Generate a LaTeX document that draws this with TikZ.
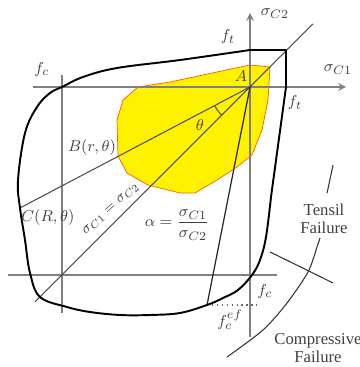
\documentclass[tikz,border=0pt]{standalone}
\usepackage{fontspec}
\setmainfont{Liberation Serif}
\tikzset{
  axisline/.style={gray, line width=1pt},
  rayline/.style={black!70, line width=0.6pt},
  lbl/.style={text=black!75, inner sep=1pt, font={\fontsize{9.5}{10.5}\selectfont}},
}
\begin{document}
\begin{tikzpicture}[xscale=0.02, yscale=0.02, line width=0.5pt]
  \useasboundingbox (0,0) rectangle (360,367);
  \coordinate (A) at (250,280);
  \coordinate (B) at (118,211);
  \coordinate (C) at (20,159);
  \coordinate (D) at (207,62);
  \coordinate (Dend) at (257,62);
  \coordinate (diagLo) at (35,65);
  \coordinate (diagHi) at (313,343);
  \coordinate (s1L) at (33,280);
  \coordinate (s1R) at (346,280);
  \coordinate (s2B) at (250,30);
  \coordinate (s2T) at (250,354);
  \coordinate (fcL) at (8,92);
  \coordinate (fcR) at (277,92);
  \coordinate (fcT) at (62,292);
  \coordinate (fcB) at (62,54);
  \coordinate (tensLo) at (327,174);
  \coordinate (tensHi) at (333,202);
  \coordinate (crossL) at (270,115);
  \coordinate (crossR) at (333,84);
  % elastic region
  \filldraw[fill=yellow, draw=orange!70!red, line width=0.4pt] (270,300) -- (250,302) -- (170,285) -- (138,280) -- (123,267) -- (117,247) -- (118,211) -- (127,194) -- (148,182) -- (180,174) -- (195,174) -- (217,187) -- (237,200) -- (252,212) -- (262,237) -- (268,267) -- cycle;
  % axes and strength lines
  \draw[axisline] (fcL) -- (fcR);
  \draw[axisline] (fcT) -- (fcB);
  \draw[axisline, ->, >=stealth] (s1L) -- (s1R);
  \draw[axisline, ->, >=stealth] (s2B) -- (s2T);
  % rays from A
  \draw[rayline] (diagLo) -- (diagHi);
  \draw[rayline] (A) -- (C);
  \draw[black!85, line width=0.7pt] (A) -- (D);
  \draw[black!60, dotted, line width=0.8pt] (D) -- (Dend);
  \draw[rayline] (A) ++(207.75:40) arc[start angle=207.75, end angle=225, radius=40];
  % failure surface
  \draw[line width=1.1pt, line join=round] (250,317) -- (286,317) -- (286,280) -- (271,170) -- plot[smooth, tension=0.6] coordinates {(271,170) (266,130) (260,107) (252,92) (238,77) (223,69) (207,62) (180,54) (150,52) (120,52) (90,55) (67,60) (40,70) (30,94) (25,127) (20,159) (18,187) (25,234) (37,260) (50,274) (62,280) (83,290) (117,299) (180,307) (250,317)};
  % tensile / compressive boundary
  \draw[black!80, line width=0.6pt] plot[smooth] coordinates {(227,10) (263,37) (287,64) (308,95) (317,120) (320,129)};
  \draw[black!80, line width=0.6pt] (tensLo) -- (tensHi);
  \draw[black!80, line width=0.6pt] (crossL) -- (crossR);
  % labels
  \node[lbl] (sC2) at (275,353) {$\sigma_{C2}$};
  \node[lbl] (sC1) at (338,297) {$\sigma_{C1}$};
  \node[lbl] (ftTop) at (228,330) {$f_t$};
  \node[lbl] (ftRight) at (295,264) {$f_t$};
  \node[lbl] (fcLeft) at (42,297) {$f_c$};
  \node[lbl] (fcBot) at (265,75) {$f_c$};
  \node[lbl] (fcEf) at (230,47) {$f_c^{ef}$};
  \node[lbl] (labA) at (241,291) {$A$};
  \node[lbl] (labTheta) at (200,242) {$\theta$};
  \node[lbl] (labB) at (92,219) {$B(r,\theta)$};
  \node[lbl] (labC) at (48,149) {$C(R,\theta)$};
  \node[lbl, inner sep=0pt, rotate=42, font={\fontsize{8}{9}\selectfont}] (labDiag) at (111,158) {$\sigma_{C1}=\sigma_{C2}$};
  \node[lbl] (labAlpha) at (177,142) {$\alpha={\displaystyle\frac{\sigma_{C1}}{\sigma_{C2}}}$};
  \node[lbl, align=center] (labTens) at (324,148) {Tensil\\Failure};
  \node[lbl, align=center] (labComp) at (318,19) {Compressive\\Failure};
\end{tikzpicture}
\end{document}
